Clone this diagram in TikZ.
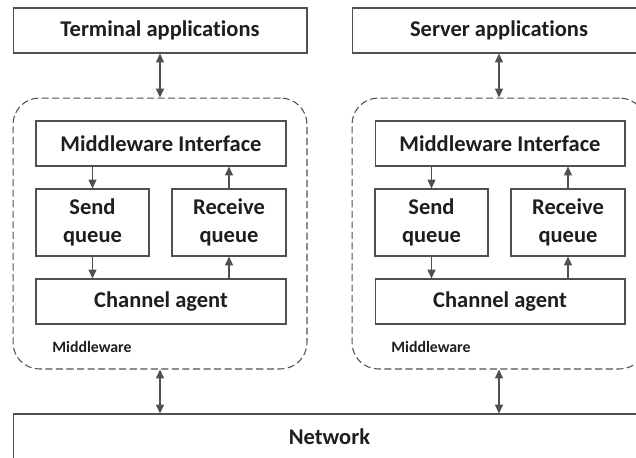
\documentclass[tikz,border=0pt]{standalone}
\usepackage{fontspec}
\setmainfont{Carlito}[Ligatures={NoCommon}]
\usetikzlibrary{arrows.meta}
\definecolor{linegray}{HTML}{505050}
\definecolor{textgray}{HTML}{1E1E1E}
\tikzset{
  box/.style={draw=linegray,line width=0.6pt,fill=white,text=textgray,
    font=\fontsize{12.8}{16}\selectfont\bfseries,align=center,inner sep=0pt},
  mwframe/.style={draw=linegray,line width=0.6pt,dash pattern=on 4pt off 2pt,
    rounded corners=15pt,inner sep=0pt},
  mwlabel/.style={text=textgray,font=\fontsize{9}{11}\selectfont\bfseries,anchor=west,inner sep=0pt},
  flow/.style={draw=linegray,line width=0.7pt,-{Triangle[length=5pt,width=4.5pt]}},
  both/.style={flow,{Triangle[length=5pt,width=4.5pt]}-{Triangle[length=5pt,width=4.5pt]}},
}
\begin{document}
\begin{tikzpicture}[x=0.02cm,y=-0.02cm]
\useasboundingbox (0,0) rectangle (636,457);
\fill[white] (0,0) rectangle (636,457);
\clip (0,0) rectangle (636,457);
%Netzwerk
	\node[box,minimum width=12.66cm,minimum height=0.92cm] (net) at (329.5,437) {Network};
%Terminal- und Serverseite
	\foreach \s/\dx/\app in {L/0/Terminal applications,R/339/Server applications}{
		\node[box,minimum width=5.88cm,minimum height=0.9cm] (app\s) at ({160+\dx},30.5) {\app};
		\node[mwframe,minimum width=5.88cm,minimum height=5.42cm] (mw\s) at ({160+\dx},233.5) {};
		\node[box,minimum width=5cm,minimum height=0.9cm] (if\s) at ({161+\dx},143.5) {Middleware Interface};
		\node[box,minimum width=2.26cm,minimum height=1.34cm] (send\s) at ({92.5+\dx},222.5) {Send\\queue};
		\node[box,minimum width=2.28cm,minimum height=1.34cm] (recv\s) at ({229+\dx},222.5) {Receive\\queue};
		\node[box,minimum width=5cm,minimum height=0.9cm] (chan\s) at ({161+\dx},301.5) {Channel agent};
		\node[mwlabel] (lab\s) at ({52+\dx},347) {Middleware};
	%Pfeile
		\draw[both] (app\s.south) -- (mw\s.north);
		\draw[both] (mw\s.south) -- (mw\s.south |- net.north);
		\draw[flow] (if\s.south -| send\s.north) -- (send\s.north);
		\draw[flow] (send\s.south) -- (send\s.south |- chan\s.north);
		\draw[flow] (chan\s.north -| recv\s.south) -- (recv\s.south);
		\draw[flow] (recv\s.north) -- (recv\s.north |- if\s.south);
	}
\end{tikzpicture}
\end{document}
